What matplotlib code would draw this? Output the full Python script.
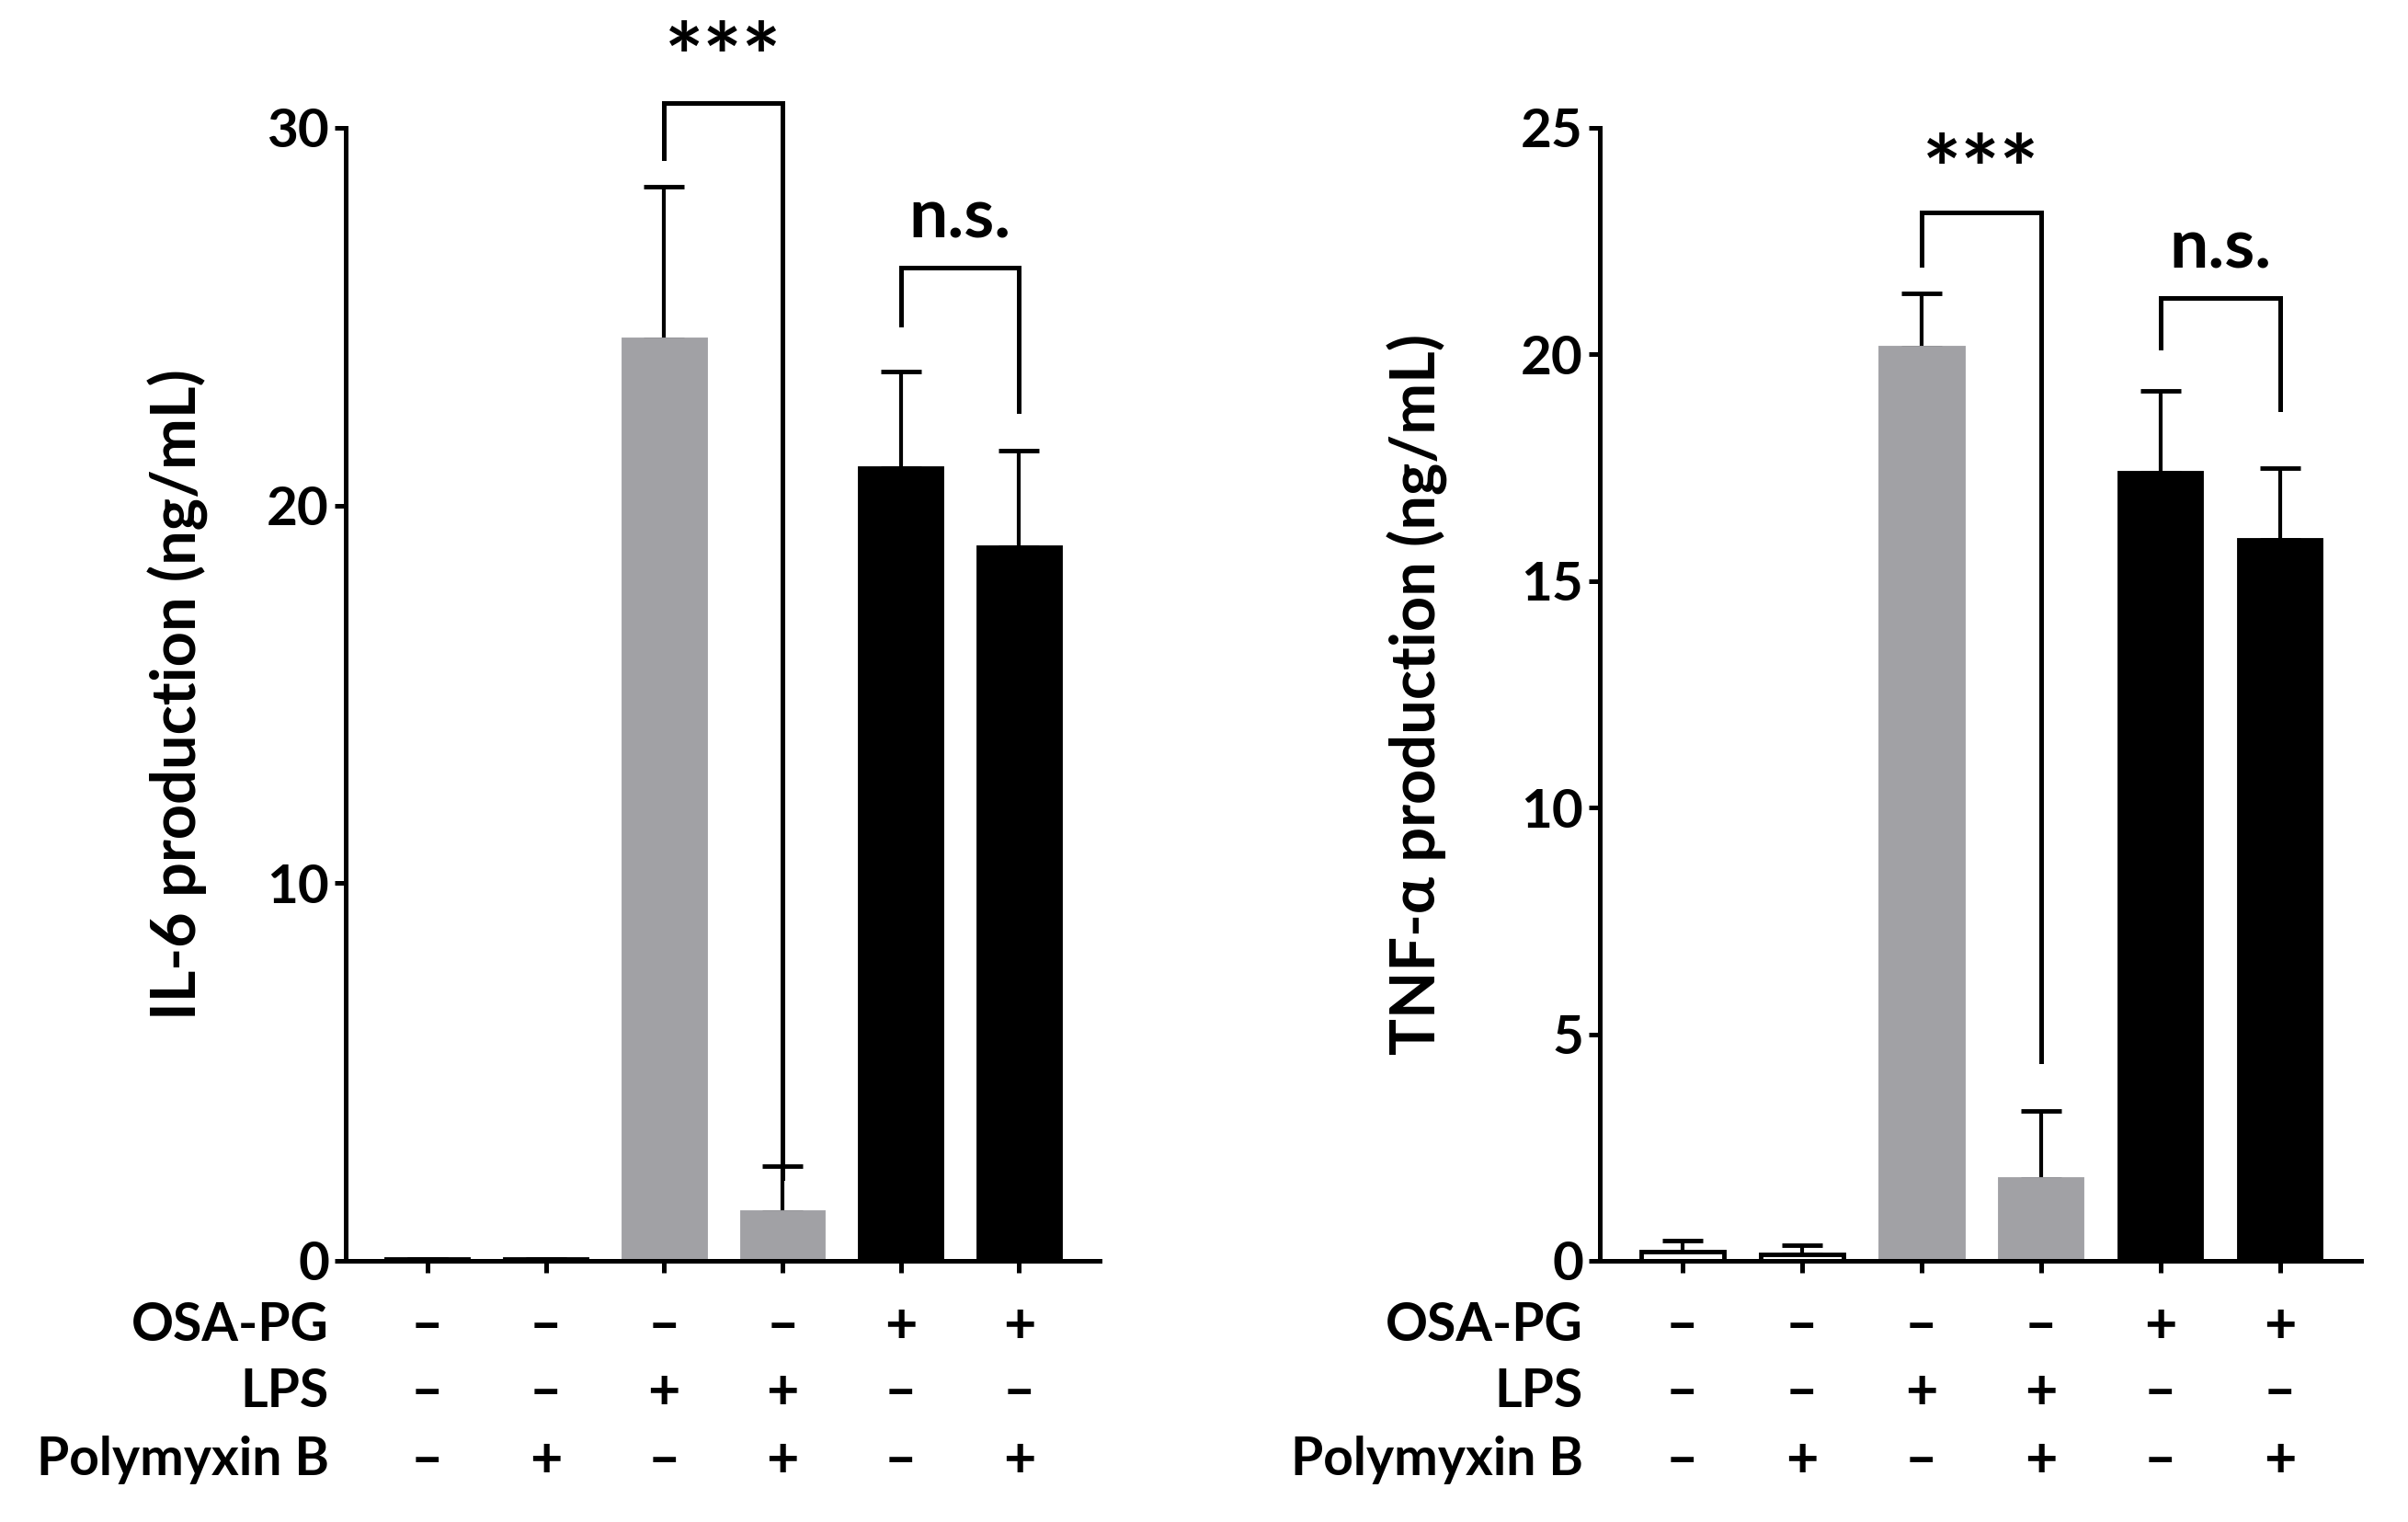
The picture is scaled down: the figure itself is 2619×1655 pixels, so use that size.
import matplotlib
matplotlib.use("Agg")
import matplotlib.pyplot as plt
import matplotlib.transforms as mtrans

plt.rcParams['font.family'] = ['Lato', 'DejaVu Sans']
plt.rcParams['font.weight'] = 'bold'

# ---- data ----
il6_means = [0.05, 0.05, 24.4, 1.3, 21.0, 18.9]
il6_err   = [0.0, 0.0, 4.05, 1.2, 2.55, 2.55]
tnf_means = [0.2, 0.15, 20.15, 1.8, 17.4, 15.9]
tnf_err   = [0.25, 0.2, 1.2, 1.5, 1.8, 1.6]
bar_colors = ['white', 'white', '#A1A1A5', '#A1A1A5', 'black', 'black']
edge_colors = ['black', 'black', '#A1A1A5', '#A1A1A5', 'black', 'black']
row_labels = ['OSA-PG', 'LPS', 'Polymyxin B']
osa_pg = ['–', '–', '–', '–', '+', '+']
lps    = ['–', '–', '+', '+', '–', '–']
polyb  = ['–', '+', '–', '+', '–', '+']
il6_ticks = [0, 10, 20, 30]
tnf_ticks = [0, 5, 10, 15, 20, 25]
ylabels = ['IL-6 production (ng/mL)', 'TNF-α production (ng/mL)']
# brackets: (x1, x2, top, left_leg_bottom, right_leg_bottom, text, text_baseline)
il6_brackets = [(2, 3, 30.65, 29.2, 2.2, '***', 31.0), (4, 5, 26.3, 24.8, 22.5, 'n.s.', 27.08)]
tnf_brackets = [(2, 3, 23.13, 21.98, 4.4, '***', 23.35), (4, 5, 21.25, 20.15, 18.8, 'n.s.', 21.9)]

W, H = 2619, 1655
fig = plt.figure(figsize=(W/100, H/100), dpi=100)

axes_specs = [
    (376/W, 1-1371/H, 820/W, (1371-139)/H, il6_means, il6_err, il6_ticks, ylabels[0], il6_brackets, -0.182),
    (1740/W, 1-1371/H, 828/W, (1371-139)/H, tnf_means, tnf_err, tnf_ticks, ylabels[1], tnf_brackets, -0.199),
]

x = list(range(6))
row_y_px = [1442, 1514, 1588]
rows = [osa_pg, lps, polyb]

for (l, b, w, h, means, errs, ticks, ylab, brackets, ylab_x) in axes_specs:
    ax = fig.add_axes([l, b, w, h])
    ax.bar(x, means, width=0.69, color=bar_colors, edgecolor=edge_colors, linewidth=3.5, zorder=2)
    ax.errorbar(x, means, yerr=[[0]*6, errs], fmt='none', ecolor='black',
                elinewidth=3, capsize=16, capthick=3.5, zorder=1)
    ax.set_xlim(-0.69, 5.68)
    ax.set_ylim(0, ticks[-1])
    ax.set_yticks(ticks)
    ax.set_xticks(x)
    ax.set_xticklabels([])
    for s in ['top', 'right']:
        ax.spines[s].set_visible(False)
    for s in ['left', 'bottom']:
        ax.spines[s].set_linewidth(3.6)
    ax.tick_params(axis='both', width=3.6, length=9, labelsize=42, pad=4)
    for t in ax.get_yticklabels():
        t.set_fontweight('bold')
    ax.set_ylabel(ylab, fontsize=48, fontweight='bold')
    ax.yaxis.set_label_coords(ylab_x, 0.5)

    for (x1, x2, top, lb, rb, txt, ty) in brackets:
        ax.plot([x1, x1, x2, x2], [lb, top, top, rb], color='black', lw=3.6,
                clip_on=False, solid_joinstyle='miter')
        fs = 72 if txt == '***' else 54
        ax.text((x1+x2)/2, ty, txt, ha='center', va='baseline', fontsize=fs,
                fontweight='bold', clip_on=False)

    tr = mtrans.blended_transform_factory(ax.transData, fig.transFigure)
    tr_lab = mtrans.blended_transform_factory(ax.transAxes, fig.transFigure)
    for ry, lab, signs in zip(row_y_px, row_labels, rows):
        yf = 1 - ry/H
        ax.text(-0.022, yf, lab, transform=tr_lab, ha='right', va='center',
                fontsize=41, fontweight='bold')
        for xi, sg in zip(x, signs):
            ax.text(xi, yf, sg, transform=tr, ha='center', va='center',
                    fontsize=44, fontweight='bold')

fig.savefig('out.png', dpi=100)
